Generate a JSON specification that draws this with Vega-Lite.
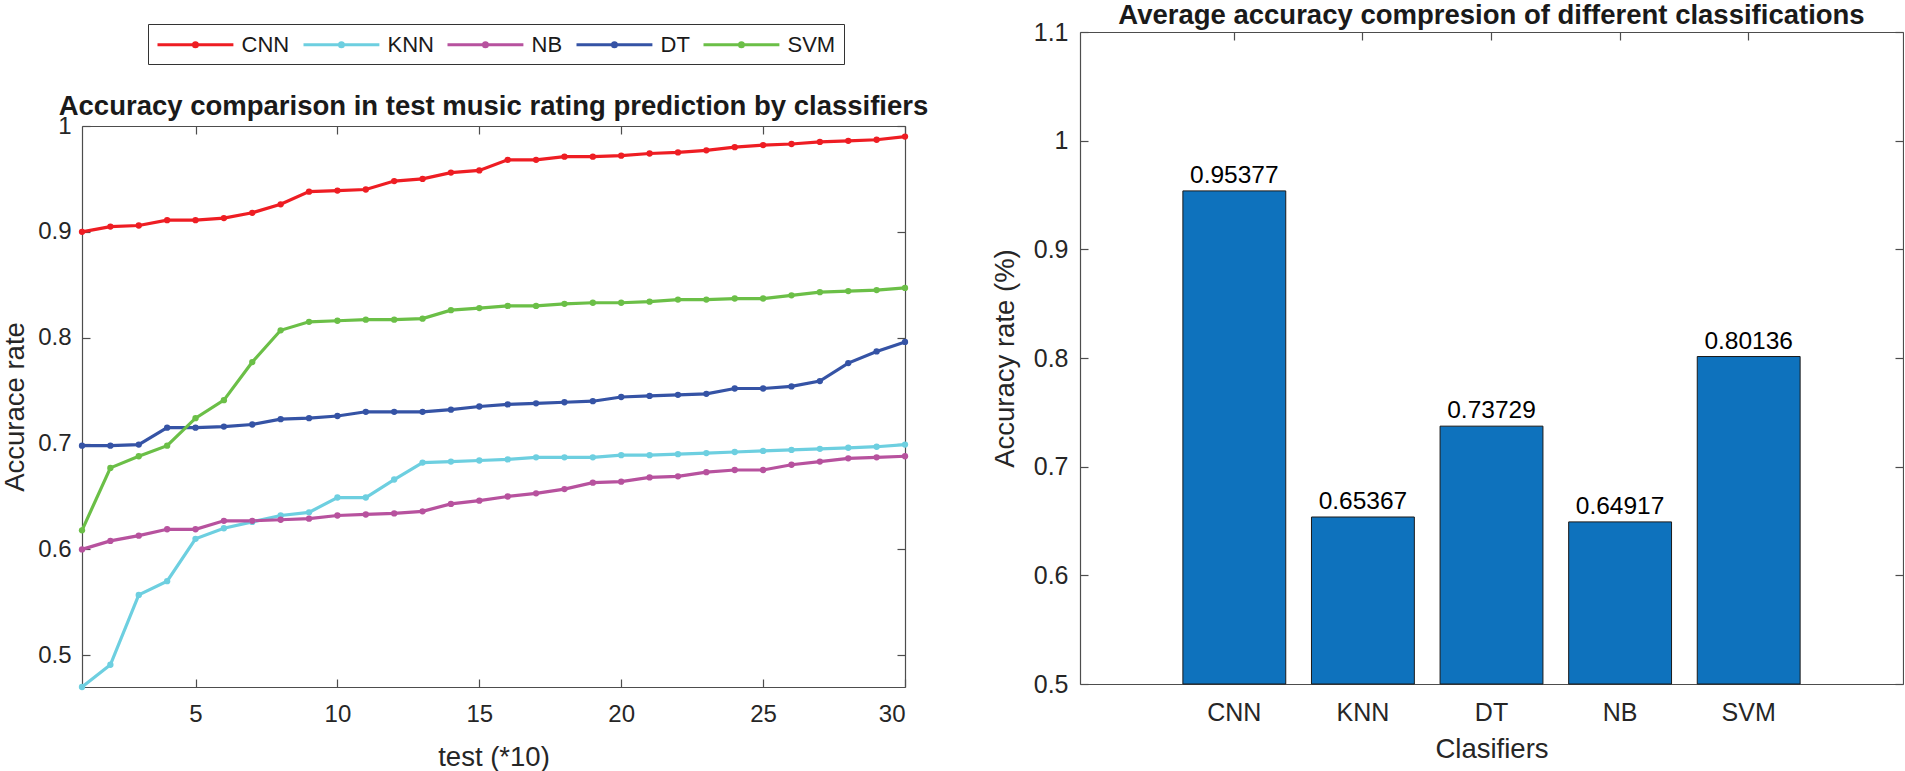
{
  "$schema": "https://vega.github.io/schema/vega-lite/v6.json",
  "background": "white",
  "padding": {"left": 1, "top": 1, "right": 0, "bottom": 0},
  "config": {
    "font": "Liberation Sans",
    "view": {"stroke": null},
    "axis": {
      "grid": false,
      "domainColor": "#4d4d4d",
      "tickColor": "#4d4d4d",
      "domainWidth": 1.2,
      "tickWidth": 1.2,
      "tickSize": -8,
      "labelColor": "#262626",
      "titleColor": "#262626",
      "labelFont": "Liberation Sans",
      "titleFont": "Liberation Sans",
      "labelFontSize": 24,
      "titleFontSize": 27.5,
      "titleFontWeight": "normal"
    },
    "title": {"font": "Liberation Sans", "fontSize": 27.5, "fontWeight": "bold", "color": "#1a1a1a"}
  },
  "datasets": {
    "models": [{"model": "CNN"}, {"model": "KNN"}, {"model": "NB"}, {"model": "DT"}, {"model": "SVM"}],
    "bars": [
      {"clf": "CNN", "acc": 0.95377},
      {"clf": "KNN", "acc": 0.65367},
      {"clf": "DT", "acc": 0.73729},
      {"clf": "NB", "acc": 0.64917},
      {"clf": "SVM", "acc": 0.80136}
    ],
    "lines": [
      {"t":1,"model":"CNN","acc":0.900},{"t":2,"model":"CNN","acc":0.905},{"t":3,"model":"CNN","acc":0.906},{"t":4,"model":"CNN","acc":0.911},{"t":5,"model":"CNN","acc":0.911},
      {"t":6,"model":"CNN","acc":0.913},{"t":7,"model":"CNN","acc":0.918},{"t":8,"model":"CNN","acc":0.926},{"t":9,"model":"CNN","acc":0.938},{"t":10,"model":"CNN","acc":0.939},
      {"t":11,"model":"CNN","acc":0.940},{"t":12,"model":"CNN","acc":0.948},{"t":13,"model":"CNN","acc":0.950},{"t":14,"model":"CNN","acc":0.956},{"t":15,"model":"CNN","acc":0.958},
      {"t":16,"model":"CNN","acc":0.968},{"t":17,"model":"CNN","acc":0.968},{"t":18,"model":"CNN","acc":0.971},{"t":19,"model":"CNN","acc":0.971},{"t":20,"model":"CNN","acc":0.972},
      {"t":21,"model":"CNN","acc":0.974},{"t":22,"model":"CNN","acc":0.975},{"t":23,"model":"CNN","acc":0.977},{"t":24,"model":"CNN","acc":0.980},{"t":25,"model":"CNN","acc":0.982},
      {"t":26,"model":"CNN","acc":0.983},{"t":27,"model":"CNN","acc":0.985},{"t":28,"model":"CNN","acc":0.986},{"t":29,"model":"CNN","acc":0.987},{"t":30,"model":"CNN","acc":0.990},
      {"t":1,"model":"KNN","acc":0.470},{"t":2,"model":"KNN","acc":0.491},{"t":3,"model":"KNN","acc":0.557},{"t":4,"model":"KNN","acc":0.570},{"t":5,"model":"KNN","acc":0.610},
      {"t":6,"model":"KNN","acc":0.620},{"t":7,"model":"KNN","acc":0.626},{"t":8,"model":"KNN","acc":0.632},{"t":9,"model":"KNN","acc":0.635},{"t":10,"model":"KNN","acc":0.649},
      {"t":11,"model":"KNN","acc":0.649},{"t":12,"model":"KNN","acc":0.666},{"t":13,"model":"KNN","acc":0.682},{"t":14,"model":"KNN","acc":0.683},{"t":15,"model":"KNN","acc":0.684},
      {"t":16,"model":"KNN","acc":0.685},{"t":17,"model":"KNN","acc":0.687},{"t":18,"model":"KNN","acc":0.687},{"t":19,"model":"KNN","acc":0.687},{"t":20,"model":"KNN","acc":0.689},
      {"t":21,"model":"KNN","acc":0.689},{"t":22,"model":"KNN","acc":0.690},{"t":23,"model":"KNN","acc":0.691},{"t":24,"model":"KNN","acc":0.692},{"t":25,"model":"KNN","acc":0.693},
      {"t":26,"model":"KNN","acc":0.694},{"t":27,"model":"KNN","acc":0.695},{"t":28,"model":"KNN","acc":0.696},{"t":29,"model":"KNN","acc":0.697},{"t":30,"model":"KNN","acc":0.699},
      {"t":1,"model":"NB","acc":0.600},{"t":2,"model":"NB","acc":0.608},{"t":3,"model":"NB","acc":0.613},{"t":4,"model":"NB","acc":0.619},{"t":5,"model":"NB","acc":0.619},
      {"t":6,"model":"NB","acc":0.627},{"t":7,"model":"NB","acc":0.627},{"t":8,"model":"NB","acc":0.628},{"t":9,"model":"NB","acc":0.629},{"t":10,"model":"NB","acc":0.632},
      {"t":11,"model":"NB","acc":0.633},{"t":12,"model":"NB","acc":0.634},{"t":13,"model":"NB","acc":0.636},{"t":14,"model":"NB","acc":0.643},{"t":15,"model":"NB","acc":0.646},
      {"t":16,"model":"NB","acc":0.650},{"t":17,"model":"NB","acc":0.653},{"t":18,"model":"NB","acc":0.657},{"t":19,"model":"NB","acc":0.663},{"t":20,"model":"NB","acc":0.664},
      {"t":21,"model":"NB","acc":0.668},{"t":22,"model":"NB","acc":0.669},{"t":23,"model":"NB","acc":0.673},{"t":24,"model":"NB","acc":0.675},{"t":25,"model":"NB","acc":0.675},
      {"t":26,"model":"NB","acc":0.680},{"t":27,"model":"NB","acc":0.683},{"t":28,"model":"NB","acc":0.686},{"t":29,"model":"NB","acc":0.687},{"t":30,"model":"NB","acc":0.688},
      {"t":1,"model":"DT","acc":0.698},{"t":2,"model":"DT","acc":0.698},{"t":3,"model":"DT","acc":0.699},{"t":4,"model":"DT","acc":0.715},{"t":5,"model":"DT","acc":0.715},
      {"t":6,"model":"DT","acc":0.716},{"t":7,"model":"DT","acc":0.718},{"t":8,"model":"DT","acc":0.723},{"t":9,"model":"DT","acc":0.724},{"t":10,"model":"DT","acc":0.726},
      {"t":11,"model":"DT","acc":0.730},{"t":12,"model":"DT","acc":0.730},{"t":13,"model":"DT","acc":0.730},{"t":14,"model":"DT","acc":0.732},{"t":15,"model":"DT","acc":0.735},
      {"t":16,"model":"DT","acc":0.737},{"t":17,"model":"DT","acc":0.738},{"t":18,"model":"DT","acc":0.739},{"t":19,"model":"DT","acc":0.740},{"t":20,"model":"DT","acc":0.744},
      {"t":21,"model":"DT","acc":0.745},{"t":22,"model":"DT","acc":0.746},{"t":23,"model":"DT","acc":0.747},{"t":24,"model":"DT","acc":0.752},{"t":25,"model":"DT","acc":0.752},
      {"t":26,"model":"DT","acc":0.754},{"t":27,"model":"DT","acc":0.759},{"t":28,"model":"DT","acc":0.776},{"t":29,"model":"DT","acc":0.787},{"t":30,"model":"DT","acc":0.796},
      {"t":1,"model":"SVM","acc":0.618},{"t":2,"model":"SVM","acc":0.677},{"t":3,"model":"SVM","acc":0.688},{"t":4,"model":"SVM","acc":0.698},{"t":5,"model":"SVM","acc":0.724},
      {"t":6,"model":"SVM","acc":0.741},{"t":7,"model":"SVM","acc":0.777},{"t":8,"model":"SVM","acc":0.807},{"t":9,"model":"SVM","acc":0.815},{"t":10,"model":"SVM","acc":0.816},
      {"t":11,"model":"SVM","acc":0.817},{"t":12,"model":"SVM","acc":0.817},{"t":13,"model":"SVM","acc":0.818},{"t":14,"model":"SVM","acc":0.826},{"t":15,"model":"SVM","acc":0.828},
      {"t":16,"model":"SVM","acc":0.830},{"t":17,"model":"SVM","acc":0.830},{"t":18,"model":"SVM","acc":0.832},{"t":19,"model":"SVM","acc":0.833},{"t":20,"model":"SVM","acc":0.833},
      {"t":21,"model":"SVM","acc":0.834},{"t":22,"model":"SVM","acc":0.836},{"t":23,"model":"SVM","acc":0.836},{"t":24,"model":"SVM","acc":0.837},{"t":25,"model":"SVM","acc":0.837},
      {"t":26,"model":"SVM","acc":0.840},{"t":27,"model":"SVM","acc":0.843},{"t":28,"model":"SVM","acc":0.844},{"t":29,"model":"SVM","acc":0.845},{"t":30,"model":"SVM","acc":0.847}
    ]
  },
  "spacing": 62,
  "resolve": {"scale": {"color": "independent"}, "legend": {"color": "independent"}},
  "hconcat": [
    {
      "spacing": 27,
      "resolve": {"scale": {"color": "independent"}, "legend": {"color": "independent"}},
      "vconcat": [
        {
          "width": 823,
          "height": 1,
          "data": {"name": "models"},
          "mark": {"type": "point", "filled": false, "opacity": 0},
          "encoding": {
            "color": {
              "field": "model",
              "type": "nominal",
              "scale": {"domain": ["CNN", "KNN", "NB", "DT", "SVM"], "range": ["#ee1d23", "#6dcfe0", "#b7529e", "#3553a5", "#6bbf47"]},
              "legend": {
                "orient": "none",
                "legendX": 66,
                "legendY": -8,
                "direction": "horizontal",
                "title": null,
                "strokeColor": "#333333",
                "fillColor": "white",
                "padding": 8,
                "columnPadding": 7,
                "labelFont": "Liberation Sans",
                "labelFontSize": 22,
                "labelColor": "#1a1a1a",
                "labelOffset": 60.5,
                "labelLimit": 0,
                "symbolType": "M-1,0L5.9,0M2.632,0A0.182,0.182,0,1,1,2.268,0A0.182,0.182,0,1,1,2.632,0",
                "symbolSize": 484,
                "symbolStrokeWidth": 3,
                "symbolFillColor": "transparent",
                "symbolOpacity": 1,
                "encode": {"symbols": {"update": {"opacity": {"value": 1}}}}
              }
            }
          }
        },
        {
          "width": 823,
          "height": 561,
          "data": {"name": "lines"},
          "title": {"text": "Accuracy comparison in test music rating prediction by classifiers", "anchor": "middle", "offset": -6},
          "layer": [
            {
              "mark": {"type": "line", "strokeWidth": 3.2},
              "encoding": {
                "x": {"field": "t", "type": "quantitative", "scale": {"domain": [1, 30], "nice": false, "zero": false},
                      "axis": {"orient": "bottom", "values": [5, 10, 15, 20, 25, 30], "format": "d", "title": "test (*10)", "labelPadding": 23, "titlePadding": 17}},
                "y": {"field": "acc", "type": "quantitative", "scale": {"domain": [0.47, 1], "nice": false, "zero": false},
                      "axis": {"orient": "left", "values": [0.5, 0.6, 0.7, 0.8, 0.9, 1], "format": "~g", "title": "Accurace rate", "labelPadding": 19, "titlePadding": 8}},
                "color": {"field": "model", "type": "nominal", "scale": {"domain": ["CNN", "KNN", "NB", "DT", "SVM"], "range": ["#ee1d23", "#6dcfe0", "#b7529e", "#3553a5", "#6bbf47"]}, "legend": null}
              }
            },
            {
              "mark": {"type": "point", "filled": true, "size": 40, "opacity": 1},
              "encoding": {
                "x": {"field": "t", "type": "quantitative", "axis": {"orient": "top", "values": [5, 10, 15, 20, 25, 30], "labels": false, "title": null}},
                "y": {"field": "acc", "type": "quantitative", "axis": {"orient": "right", "values": [0.5, 0.6, 0.7, 0.8, 0.9, 1], "labels": false, "title": null}},
                "color": {"field": "model", "type": "nominal", "legend": null}
              }
            }
          ],
          "resolve": {"axis": {"x": "independent", "y": "independent"}}
        }
      ]
    },
    {
      "width": 823,
      "height": 652,
      "data": {"name": "bars"},
      "title": {"text": "Average accuracy compresion of different classifications", "anchor": "middle", "offset": -9},
      "layer": [
        {
          "mark": {"type": "bar", "color": "#0e72bd", "stroke": "#1a1a1a", "strokeWidth": 1},
          "encoding": {
            "x": {"field": "clf", "type": "nominal", "sort": null,
                  "scale": {"domain": ["CNN", "KNN", "DT", "NB", "SVM"], "paddingInner": 0.2, "paddingOuter": 0.8},
                  "axis": {"orient": "bottom", "labelAngle": 0, "ticks": false, "tickSize": 0, "labelPadding": 16, "labelFontSize": 25, "title": "Clasifiers", "titlePadding": 10}},
            "y": {"field": "acc", "type": "quantitative", "scale": {"domain": [0.5, 1.1], "nice": false, "zero": false},
                  "axis": {"orient": "left", "values": [0.5, 0.6, 0.7, 0.8, 0.9, 1, 1.1], "format": "~g", "labelFontSize": 25, "title": "Accuracy rate (%)", "labelPadding": 20, "titlePadding": 14}},
            "y2": {"datum": 0.5}
          }
        },
        {
          "mark": {"type": "text", "baseline": "bottom", "dy": -3, "fontSize": 24.5, "color": "#000000", "font": "Liberation Sans"},
          "encoding": {
            "x": {"field": "clf", "type": "nominal", "sort": null, "axis": {"orient": "top", "labels": false, "title": null}},
            "y": {"field": "acc", "type": "quantitative", "axis": {"orient": "right", "values": [0.5, 0.6, 0.7, 0.8, 0.9, 1, 1.1], "labels": false, "title": null}},
            "text": {"field": "acc", "type": "quantitative", "format": ".5f"}
          }
        }
      ],
      "resolve": {"axis": {"x": "independent", "y": "independent"}}
    }
  ]
}
